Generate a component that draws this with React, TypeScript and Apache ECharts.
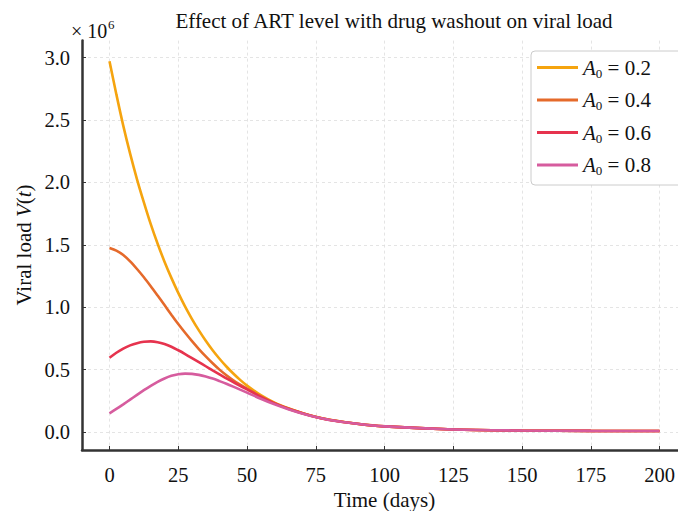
import React, { useEffect, useRef } from "react";
import * as echarts from "echarts";

const time = [0, 2.5, 5, 7.5, 10, 12.5, 15, 17.5, 20, 22.5, 25, 27.5, 30, 32.5, 35, 37.5, 40, 42.5, 45, 47.5, 50, 55, 60, 65, 70, 75, 80, 90, 100, 125, 150, 175, 200];
const a02 = [2.97, 2.705, 2.455, 2.23, 2.025, 1.84, 1.665, 1.508, 1.365, 1.235, 1.115, 1.005, 0.905, 0.814, 0.731, 0.655, 0.587, 0.525, 0.469, 0.418, 0.372, 0.295, 0.235, 0.19, 0.153, 0.122, 0.098, 0.066, 0.045, 0.02, 0.012, 0.009, 0.008];
const a04 = [1.475, 1.453, 1.418, 1.367, 1.306, 1.24, 1.168, 1.093, 1.017, 0.94, 0.865, 0.795, 0.728, 0.665, 0.606, 0.551, 0.5, 0.455, 0.415, 0.38, 0.348, 0.285, 0.232, 0.188, 0.152, 0.121, 0.098, 0.066, 0.045, 0.02, 0.012, 0.009, 0.008];
const a06 = [0.595, 0.635, 0.668, 0.694, 0.712, 0.723, 0.726, 0.72, 0.705, 0.683, 0.655, 0.625, 0.593, 0.56, 0.527, 0.494, 0.462, 0.43, 0.4, 0.37, 0.342, 0.282, 0.23, 0.186, 0.151, 0.121, 0.097, 0.066, 0.045, 0.02, 0.012, 0.009, 0.008];
const a08 = [0.15, 0.185, 0.222, 0.26, 0.298, 0.335, 0.37, 0.402, 0.429, 0.45, 0.463, 0.468, 0.466, 0.458, 0.445, 0.428, 0.408, 0.387, 0.364, 0.34, 0.316, 0.267, 0.222, 0.183, 0.149, 0.12, 0.097, 0.066, 0.045, 0.02, 0.012, 0.009, 0.008];
const seriesNames = ["0.2", "0.4", "0.6", "0.8"];
const seriesValues = [a02, a04, a06, a08];
const colors = ["#F5A40F", "#E56A2B", "#E6334E", "#D65C9E"];
const xTicks = [0, 25, 50, 75, 100, 125, 150, 175, 200];
const yTicks = [0, 0.5, 1.0, 1.5, 2.0, 2.5, 3.0];

const FONT = "'Liberation Serif', 'Times New Roman', serif";

export default function App() {
  const ref = useRef<HTMLDivElement>(null);
  useEffect(() => {
    if (!ref.current) return;
    const chart = echarts.init(ref.current, null, { renderer: "svg" });
    const option: any = {
      animation: false,
      backgroundColor: "#ffffff",
      textStyle: { fontFamily: FONT },
      title: {
        text: "Effect of ART level with drug washout on viral load",
        left: 389,
        top: 5,
        textAlign: "center",
        textStyle: { fontFamily: FONT, fontSize: 21, fontWeight: "normal", color: "#111" },
      },
      grid: {
        left: 82,
        top: 40.6,
        width: 605,
        height: 409.4,
        outerBoundsMode: "none",
        containLabel: false,
      },
      legend: {
        orient: "vertical",
        left: 531,
        top: 51,
        padding: [6, 40, 8, 6],
        itemGap: 10,
        itemWidth: 41,
        itemHeight: 3,
        icon: "rect",
        backgroundColor: "#ffffff",
        borderColor: "#cccccc",
        borderWidth: 1,
        borderRadius: 4,
        data: seriesNames.map((n) => "A0 = " + n),
        formatter: (name: string) => "{a|A}{b|0}{c|" + name.slice(2) + "}",
        textStyle: {
          fontFamily: FONT,
          color: "#111",
          rich: {
            a: { fontFamily: FONT, fontStyle: "italic", fontSize: 21, color: "#111" },
            b: { fontFamily: FONT, fontSize: 13, color: "#111", padding: [11, 0, 0, 0] },
            c: { fontFamily: FONT, fontSize: 21, color: "#111" },
          },
        },
      },
      xAxis: {
        type: "value",
        min: -10,
        max: 210,
        name: "Time (days)",
        nameLocation: "middle",
        nameGap: 36,
        nameTextStyle: { fontFamily: FONT, fontSize: 21, color: "#111" },
        axisLine: { onZero: false, lineStyle: { color: "#333", width: 2.5 } },
        axisTick: { inside: true, length: 4, customValues: xTicks, lineStyle: { color: "#333", width: 1 } },
        axisLabel: { customValues: xTicks, margin: 14, fontFamily: FONT, fontSize: 20.5, color: "#111" },
        splitLine: { show: true, lineStyle: { color: "#dddddd", width: 0.8, type: [3, 3] } },
      },
      yAxis: {
        type: "value",
        min: -0.144,
        max: 3.136,
        axisLine: { onZero: false, lineStyle: { color: "#333", width: 2.5 } },
        axisTick: { inside: true, length: 4, customValues: yTicks, lineStyle: { color: "#333", width: 1 } },
        axisLabel: {
          customValues: yTicks,
          margin: 12,
          fontFamily: FONT,
          fontSize: 20.5,
          color: "#111",
          formatter: (v: number) => v.toFixed(1),
        },
        splitLine: { show: true, lineStyle: { color: "#dddddd", width: 0.8, type: [3, 3] } },
      },
      graphic: [
        {
          type: "text",
          x: 71,
          y: 31,
          style: {
            text: "× 10",
            fontFamily: FONT,
            fontSize: 20,
            fill: "#111",
            align: "left",
            verticalAlign: "middle",
          },
        },
        {
          type: "text",
          x: 108,
          y: 24,
          style: {
            text: "6",
            fontFamily: FONT,
            fontSize: 13,
            fill: "#111",
            align: "left",
            verticalAlign: "middle",
          },
        },
        {
          type: "text",
          x: 24,
          y: 245,
          rotation: Math.PI / 2,
          style: {
            text: "{n|Viral load }{i|V}{n|(}{i|t}{n|)}",
            align: "center",
            verticalAlign: "middle",
            rich: {
              n: { fontFamily: FONT, fontSize: 21, fill: "#111" },
              i: { fontFamily: FONT, fontSize: 21, fontStyle: "italic", fill: "#111" },
            },
          },
        },
      ],
      series: seriesNames.map((n, i) => ({
        name: "A0 = " + n,
        type: "line",
        smooth: 0.3,
        showSymbol: false,
        symbol: "none",
        color: colors[i],
        lineStyle: { width: 2.6, color: colors[i] },
        data: time.map((t, j) => [t, seriesValues[i][j]]),
        z: 2 + i,
      })),
    };
    chart.setOption(option);
    return () => chart.dispose();
  }, []);
  return <div ref={ref} style={{ width: 678, height: 511, position: "absolute", left: 0, top: 0 }} />;
}
